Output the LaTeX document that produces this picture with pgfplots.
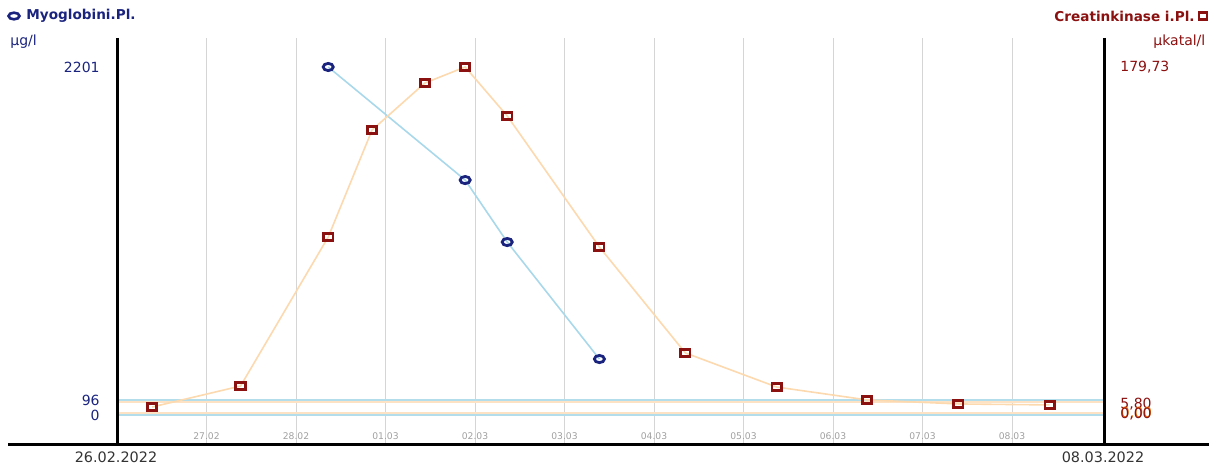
\documentclass[border=0pt]{standalone}
\usepackage{pgfplots}
\pgfplotsset{compat=1.18}
\usepackage{fontspec}
\setmainfont{DejaVu Sans}
\definecolor{navy}{HTML}{1A237E}
\definecolor{ckred}{HTML}{8B1010}
\definecolor{lineblue}{HTML}{A8D8EA}
\definecolor{lineorange}{HTML}{FCD9AE}
\definecolor{refblue}{HTML}{B4DDEC}
\definecolor{reforange}{HTML}{FDE2C4}
\definecolor{gridgray}{HTML}{D5D5D5}
\definecolor{tickgray}{HTML}{A0A0A0}
\definecolor{datetext}{HTML}{333333}
\begin{document}
\begin{tikzpicture}[x=0.5pt,y=0.5pt]
\useasboundingbox (0,0) rectangle (1209,465);
% Myoglobin (left scale)
\begin{axis}[
  at={(58.5pt,10pt)}, anchor=south west, scale only axis,
  width=493.5pt, height=203.5pt,
  xmin=0, xmax=11.028, ymin=-189.7, ymax=2384.4,
  axis line style={draw=none},
  major tick length=0pt,
  xtick={1,...,10},
  xticklabels={27.02,28.02,01.03,02.03,03.03,04.03,05.03,06.03,07.03,08.03},
  xticklabel style={font=\fontsize{4.6}{5}\selectfont, text=tickgray, anchor=center, inner sep=0pt, yshift=4.5pt},
  ytick=\empty,
  xmajorgrids, grid style={gridgray, line width=0.5pt},
  clip=false,
]
\draw[refblue, line width=0.75pt] (axis cs:0,96) -- (axis cs:11.028,96);
\draw[refblue, line width=0.75pt] (axis cs:0,0) -- (axis cs:11.028,0);
\addplot[lineblue, line width=0.8pt, mark=o, mark size=1.8pt,
  mark options={draw=navy, fill=white, line width=1.4pt, xscale=1.4, solid}]
  coordinates {(2.36,2201)(3.89,1486)(4.36,1094)(5.39,354)};
\end{axis}
% Creatinkinase (right scale)
\begin{axis}[
  at={(58.5pt,10pt)}, anchor=south west, scale only axis,
  width=493.5pt, height=203.5pt,
  xmin=0, xmax=11.028, ymin=-16.62, ymax=194.79,
  hide axis, clip=false,
]
\draw[reforange, line width=0.75pt] (axis cs:0,5.80) -- (axis cs:11.028,5.80);
\draw[reforange, line width=0.75pt] (axis cs:0,0) -- (axis cs:11.028,0);
\addplot[lineorange, line width=0.8pt, mark=square, mark size=1.8pt,
  mark options={draw=ckred, fill=white, line width=1.4pt, xscale=1.3, solid}]
  coordinates {(0.39,3.1)(1.38,14.0)(2.36,91.4)(2.85,147.0)(3.44,171.4)(3.89,179.73)
    (4.36,154.3)(5.39,86.2)(6.35,31.2)(7.37,13.5)(8.38,6.8)(9.40,4.7)(10.42,4.2)};
\end{axis}
% frame lines
\draw[black, line width=1.5pt] (117,427) -- (117,20);
\draw[black, line width=1.5pt] (1104,427) -- (1104,20);
\draw[black, line width=1.5pt] (8,20) -- (1209,20);
% left legend and scale
\draw[navy, line width=1.3pt] (14,449) ellipse [x radius=5.5, y radius=3.3];
\node[anchor=west, inner sep=0pt, text=navy, font=\bfseries\fontsize{6.8}{8}\selectfont] at (26,449) {Myoglobini.Pl.};
\node[anchor=west, inner sep=0pt, text=navy, font=\fontsize{7}{8}\selectfont] at (10,423) {µg/l};
\node[anchor=east, inner sep=0pt, text=navy, font=\fontsize{7}{8}\selectfont] at (100,398) {2201};
\node[anchor=east, inner sep=0pt, text=navy, font=\fontsize{7}{8}\selectfont] at (100,65) {96};
\node[anchor=east, inner sep=0pt, text=navy, font=\fontsize{7}{8}\selectfont] at (100,50) {0};
% right legend and scale
\node[anchor=east, inner sep=0pt, text=ckred, font=\bfseries\fontsize{6.8}{8}\selectfont] at (1195,449) {Creatinkinase i.Pl.};
\draw[ckred, line width=1.3pt, fill=white] (1199,445.5) rectangle (1207,452.5);
\node[anchor=west, inner sep=0pt, text=ckred, font=\fontsize{7}{8}\selectfont] at (1153,423) {µkatal/l};
\node[anchor=west, inner sep=0pt, text=ckred, font=\fontsize{7}{8}\selectfont] at (1120,398) {179,73};
\node[anchor=west, inner sep=0pt, text=ckred, font=\fontsize{7}{8}\selectfont] at (1120,61) {5,80};
\node[anchor=west, inner sep=0pt, text=orange!80!ckred, font=\fontsize{7}{8}\selectfont] at (1120.5,52) {0,00};
\node[anchor=west, inner sep=0pt, text=ckred, font=\fontsize{7}{8}\selectfont] at (1120,51) {0,00};
% dates
\node[inner sep=0pt, text=datetext, font=\fontsize{7.2}{8}\selectfont] at (116,8) {26.02.2022};
\node[inner sep=0pt, text=datetext, font=\fontsize{7.2}{8}\selectfont] at (1103,8) {08.03.2022};
\end{tikzpicture}
\end{document}
